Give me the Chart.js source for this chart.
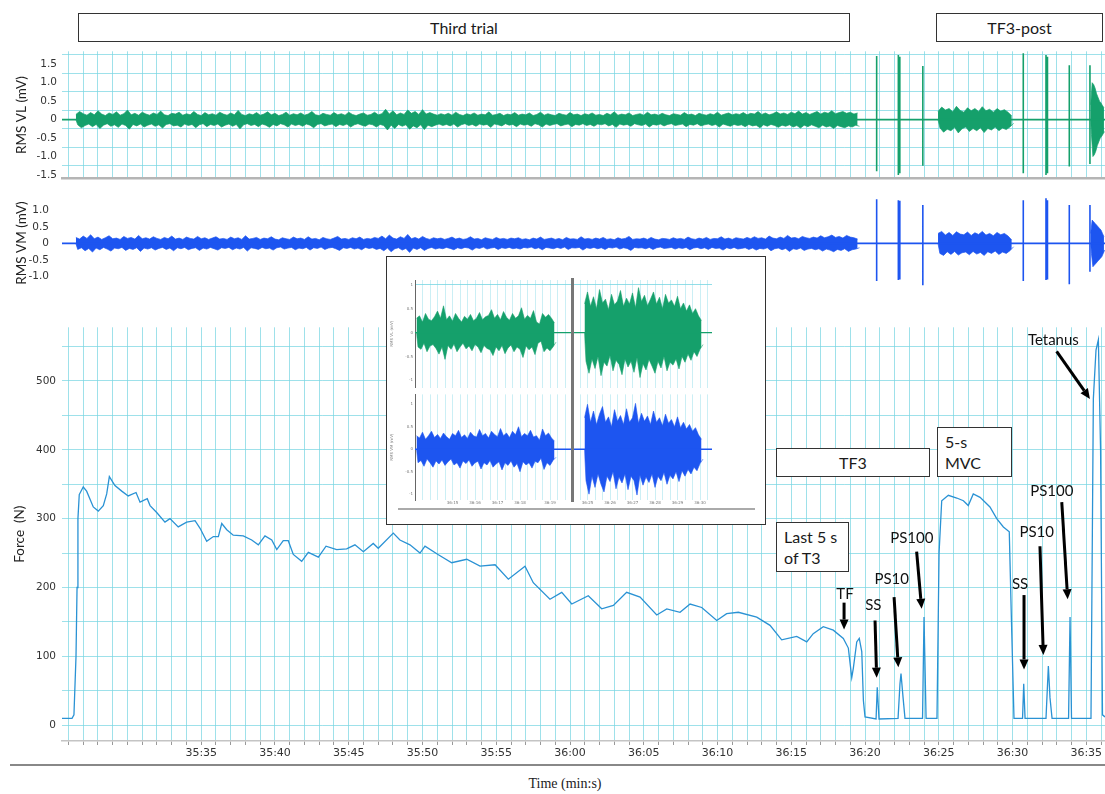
<!DOCTYPE html>
<html><head><meta charset="utf-8"><title>EMG and force</title>
<script src="https://cdn.jsdelivr.net/npm/chart.js@4.4.1/dist/chart.umd.min.js"></script>
<style>
html,body{margin:0;padding:0;background:#fff;}
#wrap{position:relative;width:1105px;height:794px;overflow:hidden;background:#fff;}
canvas{position:absolute;}
.box{position:absolute;box-sizing:border-box;border:1.5px solid #333;background:#fff;font-family:Lato,'Open Sans',sans-serif;font-size:16px;color:#1a1a1a;display:flex;align-items:center;justify-content:center;z-index:4;}
.box.l{justify-content:flex-start;padding-left:7px;line-height:21px;}
.rule{position:absolute;z-index:6;}
#xtitle{position:absolute;left:0;width:1130px;top:776px;text-align:center;font-family:'Liberation Serif',serif;font-size:14px;color:#222;}
</style></head><body><div id="wrap">
<canvas id="cVL" width="1105" height="150" style="left:0;top:40px"></canvas>
<canvas id="cVM" width="1105" height="114" style="left:0;top:186px"></canvas>
<canvas id="cF" width="1105" height="450" style="left:0;top:315px"></canvas>
<div class="box" style="left:78px;top:13px;width:772px;height:29px">Third trial</div>
<div class="box" style="left:936px;top:13px;width:167px;height:29px">TF3-post</div>
<div class="box" style="left:776px;top:448px;width:154px;height:29px">TF3</div>
<div class="box l" style="left:937px;top:427px;width:75px;height:50px">5-s<br>MVC</div>
<div class="box l" style="left:776px;top:522px;width:73px;height:50px">Last 5 s<br>of T3</div>
<div class="box" style="left:386px;top:256px;width:380px;height:269px"></div>
<canvas id="cIA" width="380" height="124" style="left:386px;top:268px;z-index:5"></canvas>
<canvas id="cIB" width="380" height="120" style="left:386px;top:390px;z-index:5"></canvas>
<div class="rule" style="left:571px;top:278px;width:3px;height:224px;background:#777"></div>
<div class="rule" style="left:398px;top:508px;width:357px;height:2px;background:#aaa"></div>
<div class="rule" style="left:10px;top:764px;width:1095px;height:2px;background:#888;z-index:1"></div>
<div id="xtitle">Time (min:s)</div>
</div>
<script>
// ---------- axes ----------
const xMin = 2125.56, xMax = 2196.27;               // seconds (35:25.6 .. 36:36.3)
const xTickTimes  = [2135,2140,2145,2150,2155,2160,2165,2170,2175,2180,2185,2190,2195];
const xTickLabels = ['35:35','35:40','35:45','35:50','35:55','36:00','36:05','36:10','36:15','36:20','36:25','36:30','36:35'];
const vlTickVals   = [-1.5,-1.0,-0.5,0,0.5,1.0,1.5];
const vlTickLabels = ['-1.5','-1.0','-0.5','0','0.5','1.0','1.5'];
const vlGridVals   = [-1.25,-0.75,-0.25,0.25,0.75,1.25,1.75];
const vmTickVals   = [-1.0,-0.5,0,0.5,1.0];
const vmTickLabels = ['-1.0','-0.5','0','0.5','1.0'];
const forceTickVals   = [0,100,200,300,400,500];
const forceTickLabels = ['0','100','200','300','400','500'];
const forceGridVals   = [0,50,100,150,200,250,300,350,400,450,500,550];

// ---------- force (N) ----------
const forceT = [2125.56,2126.24,2126.37,2126.51,2126.58,2126.64,2126.73,2127.0,2127.23,2127.68,
2128.02,2128.36,2128.59,2128.77,2129.15,2129.61,2130.05,2130.58,2130.85,2131.34,
2131.53,2131.98,2132.54,2132.88,2133.44,2134.01,2134.58,2134.92,2135.37,2135.82,
2136.16,2136.39,2136.73,2137.17,2137.85,2138.42,2138.87,2139.32,2139.78,2140.12,
2140.56,2140.9,2141.24,2141.81,2142.26,2142.94,2143.46,2144.18,2144.86,2145.42,
2145.99,2146.66,2147.0,2148.02,2148.47,2149.15,2149.83,2150.17,2151.05,2151.98,
2153.0,2153.9,2154.92,2155.82,2156.95,2157.51,2158.64,2159.44,2160.12,2161.24,
2162.15,2162.94,2163.84,2164.75,2165.88,2166.56,2167.46,2168.14,2168.93,2169.95,
2170.62,2171.41,2172.66,2173.56,2174.35,2175.37,2176.05,2176.49,2177.17,2177.85,
2178.53,2178.87,2179.1,2179.21,2179.44,2179.61,2179.78,2179.89,2180.0,2180.75,
2180.83,2180.95,2182.24,2182.37,2182.44,2182.58,2182.71,2183.9,2184.0,2184.14,
2184.88,2185.02,2185.2,2185.65,2186.22,2186.67,2187.0,2187.34,2187.8,2188.47,
2188.93,2189.38,2189.78,2189.93,2190.1,2190.68,2190.76,2190.85,2192.27,2192.43,
2192.54,2192.68,2193.8,2193.9,2194.0,2195.32,2195.48,2195.66,2195.82,2195.97,
2196.1,2196.27];
const forceN = [10,10,15,100,200,300,335,346,340,317,
311,319,336,361,348,340,333,338,324,329,
319,309,295,300,288,295,297,286,267,274,
274,293,284,276,275,269,262,275,269,255,
268,268,248,238,251,244,260,255,256,262,
252,264,257,279,269,262,250,260,248,236,
241,231,233,212,231,207,183,193,176,188,
169,174,193,186,160,169,164,176,171,152,
162,164,157,145,124,129,121,133,143,138,
126,112,69,83,121,126,107,36,12,9,
55,9,10,60,75,40,10,10,157,10,
10,250,326,334,330,326,319,336,331,317,
300,288,281,150,10,10,60,10,10,86,
40,10,10,157,10,10,474,545,560,400,
15,12];

// ---------- EMG envelopes (mV), 0.25 s bins during the trial ----------
const trialStart = 2126.5, trialStep = 0.25;
const vlTrialAmp = [
0.14,0.22,0.16,0.12,0.19,0.13,0.24,0.15,0.11,0.18,0.14,0.21,0.12,0.16,0.26,0.13,0.17,0.12,0.2,0.15,
0.12,0.18,0.14,0.23,0.13,0.11,0.17,0.15,0.2,0.12,0.16,0.13,0.22,0.14,0.11,0.19,0.13,0.16,0.12,0.2,
0.15,0.12,0.18,0.13,0.25,0.14,0.11,0.16,0.13,0.19,0.12,0.15,0.21,0.13,0.17,0.11,0.14,0.2,0.12,0.16,
0.13,0.18,0.12,0.15,0.22,0.13,0.11,0.17,0.14,0.12,0.19,0.13,0.16,0.12,0.2,0.14,0.11,0.15,0.18,0.12,
0.14,0.2,0.13,0.16,0.28,0.15,0.24,0.13,0.18,0.14,0.26,0.17,0.22,0.14,0.27,0.15,0.19,0.15,0.12,0.16,
0.13,0.17,0.12,0.2,0.14,0.11,0.16,0.13,0.18,0.12,0.15,0.13,0.21,0.12,0.14,0.17,0.11,0.15,0.13,0.19,
0.12,0.15,0.13,0.18,0.11,0.14,0.2,0.12,0.16,0.13,0.11,0.17,0.14,0.12,0.19,0.13,0.15,0.11,0.16,0.13,
0.18,0.12,0.14,0.11,0.17,0.13,0.21,0.12,0.15,0.13,0.18,0.11,0.14,0.16,0.12,0.2,0.13,0.15,0.12,0.17,
0.13,0.11,0.16,0.14,0.12,0.19,0.13,0.15,0.11,0.17,0.14,0.12,0.16,0.13,0.2,0.12,0.15,0.18,0.13,0.16,
0.14,0.19,0.13,0.17,0.15,0.22,0.14,0.18,0.13,0.16,0.21,0.15,0.18,0.14,0.2,0.16,0.23,0.15,0.19,0.14,
0.18,0.22,0.15,0.2,0.17,0.24,0.16,0.19,0.22,0.17,0.2,0.15,0.18];
const vmTrialAmp = [
0.18,0.13,0.22,0.15,0.26,0.14,0.19,0.12,0.17,0.23,0.14,0.16,0.12,0.21,0.15,0.18,0.13,0.24,0.14,0.17,
0.13,0.2,0.15,0.12,0.18,0.14,0.22,0.13,0.16,0.12,0.19,0.15,0.13,0.21,0.14,0.17,0.12,0.16,0.2,0.13,
0.15,0.12,0.19,0.14,0.17,0.12,0.23,0.13,0.15,0.18,0.12,0.16,0.14,0.2,0.13,0.11,0.17,0.14,0.12,0.19,
0.14,0.16,0.12,0.2,0.13,0.15,0.11,0.18,0.14,0.12,0.16,0.21,0.13,0.15,0.12,0.17,0.14,0.19,0.12,0.15,
0.13,0.18,0.15,0.22,0.14,0.25,0.16,0.13,0.2,0.15,0.27,0.14,0.18,0.13,0.21,0.15,0.12,0.17,0.14,0.16,
0.12,0.15,0.19,0.13,0.16,0.12,0.14,0.2,0.13,0.15,0.11,0.17,0.14,0.12,0.18,0.13,0.15,0.12,0.16,0.14,
0.17,0.12,0.14,0.11,0.16,0.13,0.19,0.12,0.14,0.16,0.12,0.15,0.11,0.18,0.13,0.14,0.12,0.2,0.13,0.15,
0.12,0.16,0.13,0.18,0.12,0.14,0.11,0.17,0.13,0.15,0.21,0.12,0.14,0.13,0.16,0.12,0.18,0.13,0.11,0.15,
0.14,0.12,0.17,0.13,0.15,0.12,0.19,0.14,0.12,0.16,0.13,0.18,0.12,0.15,0.14,0.2,0.13,0.16,0.12,0.17,
0.15,0.13,0.18,0.14,0.2,0.15,0.17,0.13,0.22,0.16,0.14,0.19,0.15,0.24,0.16,0.18,0.14,0.21,0.17,0.15,
0.19,0.16,0.23,0.17,0.2,0.25,0.18,0.21,0.16,0.24,0.19,0.17,0.13];
// 5-s MVC burst
const mvcStart = 2184.95, mvcStep = 0.25;
const vlMvcAmp = [0.22,0.34,0.26,0.3,0.21,0.36,0.25,0.2,0.32,0.24,0.3,0.22,0.35,0.24,0.28,0.2,0.3,0.23,0.27,0.2,0.1];
const vmMvcAmp = [0.3,0.36,0.25,0.33,0.24,0.35,0.28,0.26,0.34,0.24,0.32,0.27,0.36,0.25,0.3,0.23,0.33,0.26,0.3,0.22,0.1];
// tetanus burst
const tetStart = 2195.3, tetStep = 0.1;
const vlTetAmp = [0.4,1.0,0.95,0.85,0.7,0.6,0.5,0.45,0.38,0.32];
const vmTetAmp = [0.3,0.7,0.65,0.6,0.55,0.5,0.45,0.4,0.3,0.2];
// single stimuli (SS, PS10, PS100)
const stimT    = [2180.79,2182.26,2182.31,2182.36,2183.92,2190.73,2192.27,2192.32,2192.37,2193.85,2195.25];
const vlStimHi = [1.72,1.75,0.6,1.7,1.45,1.8,1.75,0.6,1.7,1.47,1.47];
const vlStimLo = [-1.4,-1.5,-0.6,-1.45,-1.25,-1.45,-1.5,-0.6,-1.45,-1.27,-1.2];
const vmStimHi = [1.33,1.3,0.5,1.28,1.15,1.3,1.36,0.5,1.3,1.15,1.15];
const vmStimLo = [-1.13,-1.1,-0.5,-1.08,-1.26,-1.13,-1.1,-0.5,-1.08,-1.23,-0.85];

// ---------- inset (last 5 s of T3 | 5-s MVC) ----------
const insetMax = 9.9, insetStep = 0.1, insetLeftStart = 0.05, insetRightStart = 5.65;
const insetXTickTimes  = [1.25,2.0,2.75,3.5,4.5,5.75,6.5,7.25,8.0,8.75,9.5];
const insetXTickLabels = ['36:15','36:16','36:17','36:18','36:19','36:25','36:26','36:27','36:28','36:29','36:30'];
const insetYTickVals   = [-1,-0.5,0,0.5,1];
const insetYTickLabels = ['-1','-0.5','0','0.5','1'];
const vlInsetLeft  = [0.3,0.35,0.22,0.4,0.28,0.25,0.33,0.45,0.3,0.56,0.27,0.35,0.24,0.4,0.3,0.22,0.34,0.28,0.38,0.25,0.3,0.42,0.27,0.33,0.36,0.48,0.3,0.38,0.27,0.44,0.32,0.26,0.4,0.3,0.35,0.52,0.28,0.36,0.3,0.46,0.22,0.18,0.4,0.32,0.38,0.3,0.2];
const vlInsetRight = [0.6,0.85,0.55,0.75,0.5,0.9,0.62,0.7,0.48,0.8,0.58,0.66,0.88,0.55,0.72,0.6,0.83,0.52,0.94,0.65,0.78,0.56,0.7,0.85,0.6,0.74,0.5,0.8,0.62,0.68,0.55,0.76,0.5,0.62,0.45,0.58,0.4,0.5,0.35,0.25];
const vmInsetLeft  = [0.3,0.25,0.38,0.22,0.3,0.4,0.26,0.33,0.24,0.36,0.28,0.22,0.35,0.3,0.42,0.26,0.32,0.24,0.38,0.3,0.27,0.44,0.3,0.35,0.25,0.4,0.33,0.28,0.46,0.3,0.36,0.26,0.4,0.32,0.5,0.28,0.35,0.3,0.42,0.27,0.3,0.2,0.45,0.3,0.36,0.25,0.18];
const vmInsetRight = [0.7,1.0,0.6,0.85,0.55,0.78,0.95,0.6,0.72,0.5,0.88,0.62,0.75,0.55,0.9,0.6,0.7,1.02,0.58,0.8,0.62,0.74,0.55,0.85,0.6,0.7,0.52,0.78,0.58,0.66,0.5,0.72,0.48,0.6,0.45,0.55,0.4,0.48,0.32,0.22];

// ---------- annotations on the force panel (data coordinates) ----------
const annoText  = ['TF','SS','PS10','PS100','SS','PS10','PS100','Tetanus'];
const annoTextT = [2178.64,2180.56,2181.81,2183.17,2190.51,2191.64,2192.66,2192.77];
const annoTextN = [190,174,212,271,205,281,340,560];
const arrowT0 = [2178.58,2180.68,2181.97,2183.5,2190.78,2191.86,2193.34,2192.99];
const arrowN0 = [178,152,186,252,189,260,324,543];
const arrowT1 = [2178.58,2180.79,2182.26,2183.84,2190.78,2192.09,2193.74,2195.25];
const arrowN1 = [139,69,84,169,81,102,183,474];

// ---------- styling ----------
const GREEN = '#15a06b', BLUE = '#1d55f0', FORCE = '#2a92d4';
const CYAN = 'rgba(120,214,226,0.72)';
const TICKFONT = {family:'DejaVu Sans', size:10.5};
const TITLEFONT = {family:'Lato', size:13.5};

// upper edge sampled at bin starts, lower edge at bin midpoints
function envSets(start, step, amps, color, bw){
  const up = amps.map((a,i)=>({x:start+i*step, y:a}));
  const lo = amps.map((a,i)=>({x:start+(i+0.5)*step, y:-a}));
  lo.unshift({x:start, y:0});
  return [
    {data:up, borderColor:color, backgroundColor:color, borderWidth:bw, pointRadius:0, fill:'+1', tension:0},
    {data:lo, borderColor:color, backgroundColor:color, borderWidth:bw, pointRadius:0, fill:false, tension:0}
  ];
}
function spikeSet(ts, hi, lo, color, w){
  const d = [];
  ts.forEach((t,i)=>{ d.push({x:t,y:hi[i]},{x:t,y:lo[i]},{x:t,y:null}); });
  return {data:d, borderColor:color, borderWidth:w, pointRadius:0, fill:false, spanGaps:false};
}
function flatSet(t0,t1,color,w){
  return {data:[{x:t0,y:0},{x:t1,y:0}], borderColor:color, borderWidth:w, pointRadius:0, fill:false};
}
function xScale(showLabels, showGrid){
  return {
    type:'linear', min:xMin, max:xMax, display:true,
    afterBuildTicks: s => { const t=[]; for(let v=Math.ceil(xMin); v<=xMax; v++) t.push({value:v}); s.ticks=t; },
    ticks:{display:showLabels, autoSkip:false, maxRotation:0, padding:2, font:{family:'DejaVu Sans',size:11}, color:'#333',
      callback: v => { const i = xTickTimes.indexOf(v); return i>=0 ? xTickLabels[i] : ''; }},
    grid:{display:showGrid, color:CYAN, lineWidth:1, drawTicks:showLabels, tickLength:4, tickColor:'#999'},
    border:{display:true, color:showLabels?'#c4c4c4':'#b5b5b5', width:showLabels?1.5:2.5},
    afterFit: s => { s.height = showLabels ? 24 : 0; }
  };
}
const base = {responsive:false, animation:false, events:[], plugins:{legend:{display:false}, tooltip:{enabled:false}}};

// ----- VL -----
new Chart(document.getElementById('cVL'), {
  type:'line',
  data:{datasets:[
    flatSet(xMin,xMax,GREEN,1.6),
    ...envSets(trialStart,trialStep,vlTrialAmp,GREEN,0.7),
    ...envSets(mvcStart,mvcStep,vlMvcAmp,GREEN,0.7),
    ...envSets(tetStart,tetStep,vlTetAmp,GREEN,0.7),
    spikeSet(stimT,vlStimHi,vlStimLo,GREEN,1.6)
  ]},
  options:{...base, layout:{padding:{top:8,bottom:4,left:0,right:0}},
    scales:{
      x: xScale(false,true),
      y:{min:-1.6, max:1.85,
        afterBuildTicks: s => { s.ticks = vlTickVals.concat(vlGridVals).map(v=>({value:v})); },
        ticks:{autoSkip:false, padding:5, font:TICKFONT, color:'#333',
          callback: v => { const i=vlTickVals.indexOf(v); return i>=0 ? vlTickLabels[i] : ''; }},
        grid:{color: c => (c.tick && vlGridVals.includes(c.tick.value)) ? CYAN : 'rgba(0,0,0,0)', drawTicks:false},
        border:{display:false},
        title:{display:true, text:'RMS VL (mV)', font:TITLEFONT, color:'#222', padding:{top:14,bottom:0}},
        afterFit: s => { s.width = 62; }
      }
    }}
});

// ----- VM -----
new Chart(document.getElementById('cVM'), {
  type:'line',
  data:{datasets:[
    flatSet(xMin,xMax,BLUE,1.6),
    ...envSets(trialStart,trialStep,vmTrialAmp,BLUE,0.7),
    ...envSets(mvcStart,mvcStep,vmMvcAmp,BLUE,0.7),
    ...envSets(tetStart,tetStep,vmTetAmp,BLUE,0.7),
    spikeSet(stimT,vmStimHi,vmStimLo,BLUE,1.6)
  ]},
  options:{...base, layout:{padding:{top:4,bottom:3,left:0,right:0}},
    scales:{
      x:{type:'linear', min:xMin, max:xMax, display:false},
      y:{min:-1.36, max:1.385,
        afterBuildTicks: s => { s.ticks = vmTickVals.map(v=>({value:v})); },
        ticks:{autoSkip:false, padding:5, font:TICKFONT, color:'#333',
          callback: v => { const i=vmTickVals.indexOf(v); return i>=0 ? vmTickLabels[i] : ''; }},
        grid:{display:false},
        border:{display:false},
        title:{display:true, text:'RMS VM (mV)', font:TITLEFONT, color:'#222', padding:{top:14,bottom:0}},
        afterFit: s => { s.width = 62; }
      }
    }}
});

// ----- Force -----
function drawArrow(ctx,x0,y0,x1,y1){
  const a = Math.atan2(y1-y0,x1-x0), hl = 10, hw = 4.5;
  const bx = x1-hl*Math.cos(a), by = y1-hl*Math.sin(a);
  ctx.beginPath(); ctx.moveTo(x0,y0); ctx.lineTo(bx,by); ctx.stroke();
  ctx.beginPath(); ctx.moveTo(x1,y1);
  ctx.lineTo(bx+hw*Math.sin(a), by-hw*Math.cos(a));
  ctx.lineTo(bx-hw*Math.sin(a), by+hw*Math.cos(a));
  ctx.closePath(); ctx.fill();
}
const annoPlugin = {
  id:'anno',
  afterDatasetsDraw(chart){
    const ctx = chart.ctx, xs = chart.scales.x, ys = chart.scales.y;
    ctx.save();
    ctx.strokeStyle = '#000'; ctx.fillStyle = '#000'; ctx.lineWidth = 3; ctx.lineCap = 'butt';
    arrowT0.forEach((t,i)=>{
      drawArrow(ctx, xs.getPixelForValue(t), ys.getPixelForValue(arrowN0[i]),
                     xs.getPixelForValue(arrowT1[i]), ys.getPixelForValue(arrowN1[i]));
    });
    ctx.font = '15px Lato, "Open Sans", sans-serif'; ctx.fillStyle = '#111';
    ctx.textAlign = 'center'; ctx.textBaseline = 'middle';
    annoText.forEach((s,i)=>{ ctx.fillText(s, xs.getPixelForValue(annoTextT[i]), ys.getPixelForValue(annoTextN[i])); });
    ctx.restore();
  }
};
new Chart(document.getElementById('cF'), {
  type:'line',
  data:{datasets:[{data:forceT.map((t,i)=>({x:t,y:forceN[i]})), borderColor:FORCE, borderWidth:1.3, pointRadius:0, fill:false, tension:0}]},
  options:{...base, layout:{padding:{top:5,bottom:0,left:0,right:0}},
    scales:{
      x: xScale(true,true),
      y:{min:-23, max:578,
        afterBuildTicks: s => { s.ticks = forceGridVals.map(v=>({value:v})); },
        ticks:{autoSkip:false, padding:6, font:TICKFONT, color:'#333',
          callback: v => { const i=forceTickVals.indexOf(v); return i>=0 ? forceTickLabels[i] : ''; }},
        grid:{color:CYAN, drawTicks:false},
        border:{display:false},
        title:{display:true, text:'Force  (N)', font:TITLEFONT, color:'#222', padding:{top:12,bottom:0}},
        afterFit: s => { s.width = 62; }
      }
    }},
  plugins:[annoPlugin]
});

// ----- Inset -----
function insetX(showLabels){
  return {
    type:'linear', min:0, max:insetMax, display:true,
    afterBuildTicks: s => { const t=[]; for(let k=1; k*0.25<=insetMax; k++) t.push({value:k*0.25}); s.ticks=t; },
    ticks:{display:showLabels, autoSkip:false, maxRotation:0, padding:1, font:{family:'DejaVu Sans',size:4}, color:'#777',
      callback: v => { const i=insetXTickTimes.indexOf(v); return i>=0 ? insetXTickLabels[i] : ''; }},
    grid:{color:'rgba(140,220,232,0.45)', drawTicks:false},
    border:{display:false},
    afterFit: s => { s.height = showLabels ? 10 : 0; }
  };
}
function insetY(min,max,title,gridTop){
  return {
    min:min, max:max,
    afterBuildTicks: s => { s.ticks = insetYTickVals.map(v=>({value:v})); },
    ticks:{autoSkip:false, padding:2, font:{family:'DejaVu Sans',size:4}, color:'#777',
      callback: v => { const i=insetYTickVals.indexOf(v); return i>=0 ? insetYTickLabels[i] : ''; }},
    grid:{color: c => (gridTop && c.tick && c.tick.value===1) ? 'rgba(120,214,226,0.8)' : 'rgba(0,0,0,0)', drawTicks:false},
    border:{display:true, color:'#666', width:1},
    title:{display:true, text:title, font:{family:'DejaVu Sans',size:4}, color:'#777', padding:{top:4,bottom:0}},
    afterFit: s => { s.width = 29; }
  };
}
new Chart(document.getElementById('cIA'), {
  type:'line',
  data:{datasets:[
    flatSet(0,insetMax,GREEN,1.4),
    ...envSets(insetLeftStart,insetStep,vlInsetLeft,GREEN,0.6),
    ...envSets(insetRightStart,insetStep,vlInsetRight,GREEN,0.6)
  ]},
  options:{...base, layout:{padding:{top:12,bottom:4,left:0,right:54}},
    scales:{x:insetX(false), y:insetY(-1.15,1.1,'RMS VL (mV)',true)}}
});
new Chart(document.getElementById('cIB'), {
  type:'line',
  data:{datasets:[
    flatSet(0,insetMax,BLUE,1.4),
    ...envSets(insetLeftStart,insetStep,vmInsetLeft,BLUE,0.6),
    ...envSets(insetRightStart,insetStep,vmInsetRight,BLUE,0.6)
  ]},
  options:{...base, layout:{padding:{top:2,bottom:0,left:0,right:54}},
    scales:{x:insetX(true), y:insetY(-1.13,1.22,'RMS VM (mV)',false)}}
});
</script>
</body></html>
